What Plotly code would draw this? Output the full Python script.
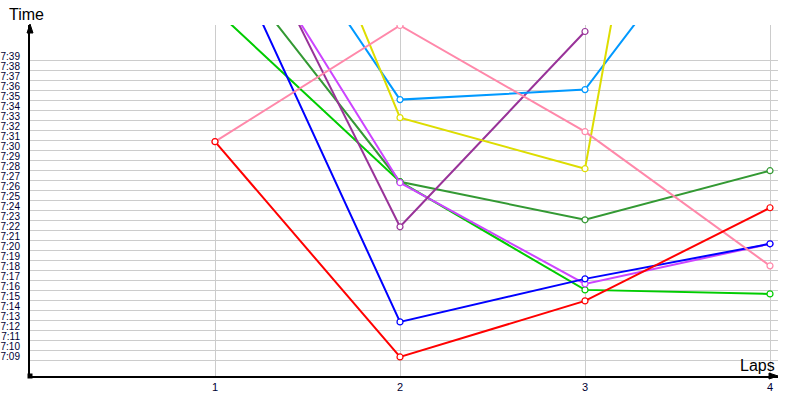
import plotly.graph_objects as go

# lap numbers and lap times (seconds, 7:39 -> 459)
laps = [1, 2, 3, 4]

red = [450.9, 429.4, 435.0, 444.3]
pink = [450.9, 462.5, 451.9, 438.5]
blue = [473.0, 432.9, 437.2, 440.7]
green = [464.1, 446.9, 436.1, 435.7]
dark_green = [470.5, 446.9, 443.1, 448.0]
violet = [476.4, 446.8, 436.7, 440.7]
dark_purple = [479.4, 442.4, 461.9, None]
light_blue = [482.4, 455.1, 456.1, 480.4]
yellow = [497.9, 453.3, 448.2, 550.2]

series = [
    ("green", green, "#00cc00"),
    ("dark green", dark_green, "#339933"),
    ("violet", violet, "#cc44ff"),
    ("blue", blue, "#0000ff"),
    ("dark purple", dark_purple, "#993399"),
    ("light blue", light_blue, "#0099ff"),
    ("yellow", yellow, "#dddd00"),
    ("pink", pink, "#ff88aa"),
    ("red", red, "#ff0000"),
]

minutes = list(range(429, 460))
tick_text = [f"{m // 60}:{m % 60:02d}" for m in minutes]

y_min, y_max = 427.5, 462.55
x_max = 748 / 185

fig = go.Figure()

for name, values, color in series:
    fig.add_trace(go.Scatter(
        x=laps,
        y=values,
        mode='lines+markers',
        name=name,
        line=dict(color=color, width=2),
        marker=dict(symbol='circle', size=6, color='white', line=dict(color=color, width=1.2)),
        hovertemplate='Lap %{x}<br>%{y}<extra>' + name + '</extra>'
    ))

# small square at origin
fig.add_trace(go.Scatter(
    x=[0], y=[y_min], mode='markers',
    marker=dict(symbol='square', size=5, color='black'),
    cliponaxis=False, hoverinfo='skip'
))

fig.update_layout(
    width=800,
    height=400,
    margin=dict(l=30, r=22, t=25, b=24),
    plot_bgcolor='white',
    paper_bgcolor='white',
    showlegend=False,
    font=dict(family="Liberation Sans", color='black'),
    xaxis=dict(
        range=[0, x_max],
        tickvals=laps,
        ticktext=[str(l) for l in laps],
        automargin=False,
        showgrid=True,
        gridcolor='#cccccc',
        gridwidth=1,
        zeroline=False,
        showline=True,
        linecolor='black',
        linewidth=2,
        ticks='',
        ticklabelstandoff=0,
        tickfont=dict(size=11, color='#000033'),
    ),
    yaxis=dict(
        range=[y_min, y_max],
        tickvals=[m + 0.45 for m in minutes],
        ticktext=tick_text,
        automargin=False,
        showgrid=False,
        zeroline=False,
        showline=True,
        linecolor='black',
        linewidth=2,
        ticks='',
        ticklabelstandoff=6,
        tickfont=dict(size=10, color='#000033'),
        minor=dict(tickmode='array', tickvals=minutes, showgrid=True,
                   gridcolor='#cccccc', gridwidth=1, ticks=''),
    ),
)

# axis arrow heads
arrow = dict(type='path', xref='paper', yref='paper', xsizemode='pixel', ysizemode='pixel',
             fillcolor='black', line=dict(color='black', width=1), layer='above')
fig.add_shape(**arrow, xanchor=0, yanchor=1, path='M -3 -8 L 3 -8 L 0 1 Z')
fig.add_shape(**arrow, xanchor=1, yanchor=0, path='M -9 -3 L -9 3 L 0 0 Z')

fig.add_annotation(x=-0.005, y=1.029, xref='paper', yref='paper', text='Time',
                   showarrow=False, font=dict(size=16, color='black'),
                   xanchor='center', yanchor='middle')
fig.add_annotation(x=0.973, y=0.03, xref='paper', yref='paper', text='Laps',
                   showarrow=False, font=dict(size=16, color='black'),
                   xanchor='center', yanchor='middle')

# drop the default 8px body margin so the figure sits at the window corner
fig.write_html("out.html", config={'displayModeBar': False},
               post_script="document.body.style.margin='0';")
